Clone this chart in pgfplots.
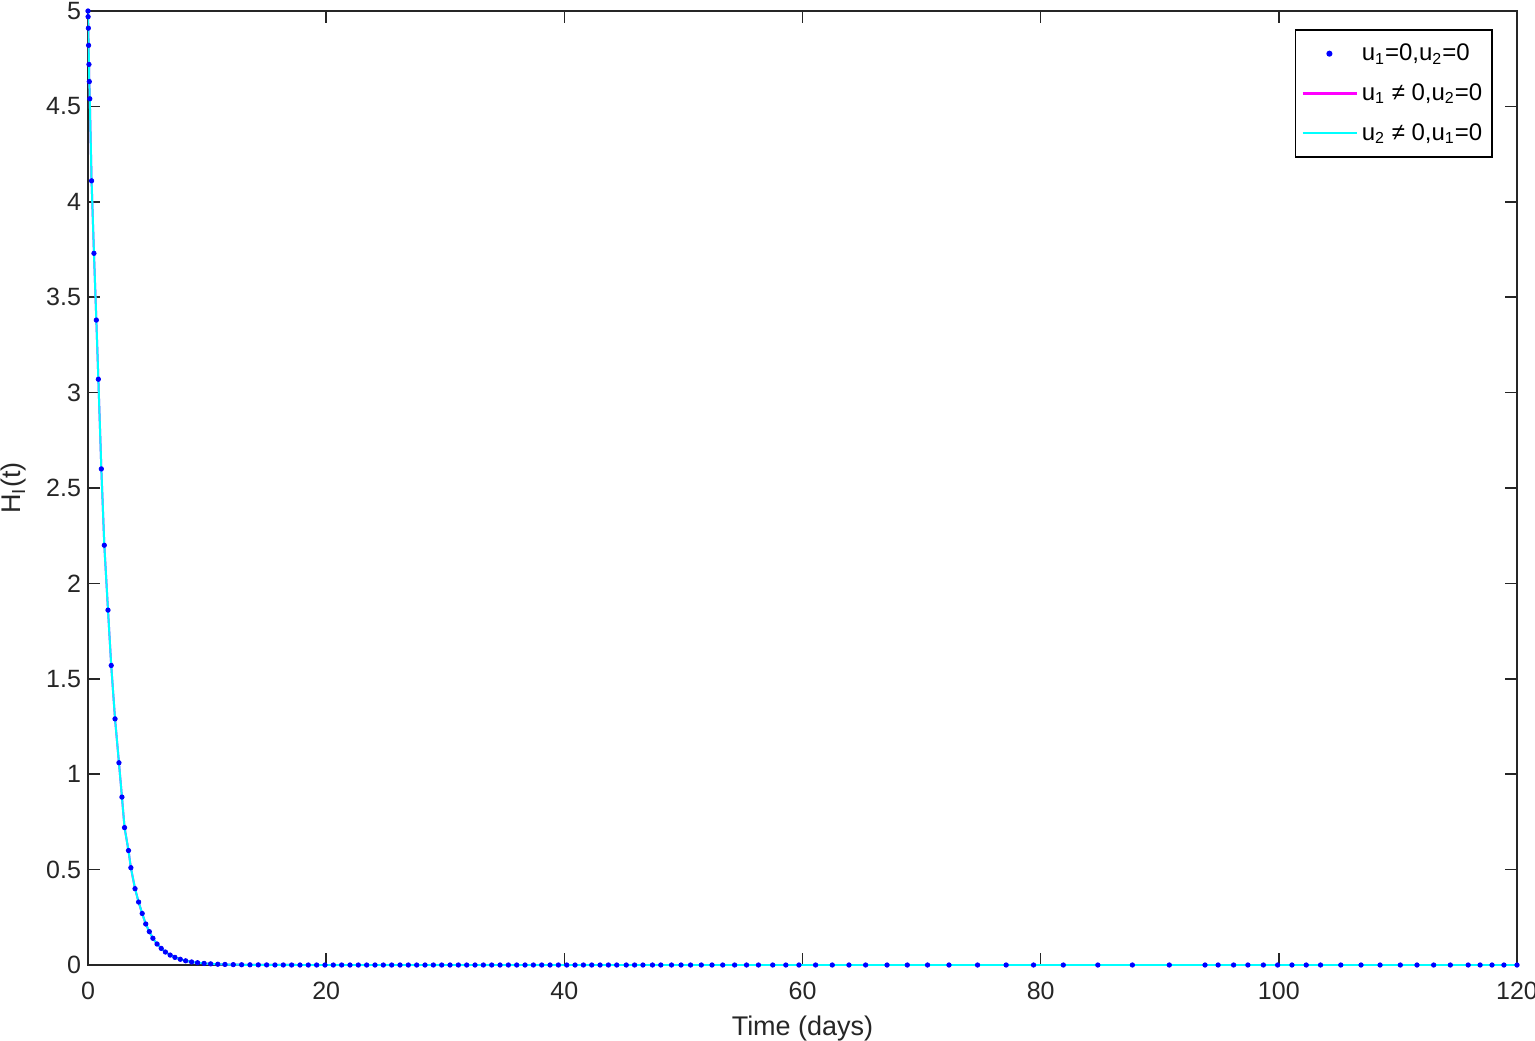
\documentclass[border=0pt]{standalone}
\usepackage{fontspec}
\setmainfont{Liberation Sans}
\usepackage{pgfplots}
\usepackage{pgfplotstable}
\pgfplotsset{compat=1.18}
\definecolor{axgray}{RGB}{38,38,38}
\definecolor{mblue}{RGB}{0,0,255}
\definecolor{mmag}{RGB}{255,0,255}
\definecolor{mcyan}{RGB}{0,255,255}
\pgfplotstableread{
t y
0 5.00
0.01 4.97
0.03 4.91
0.05 4.82
0.08 4.72
0.11 4.63
0.15 4.54
0.3 4.11
0.5 3.73
0.7 3.38
0.87 3.07
1.12 2.60
1.37 2.20
1.68 1.86
1.95 1.57
2.27 1.29
2.6 1.06
2.85 0.88
3.07 0.72
3.4 0.60
3.6 0.51
3.95 0.40
4.25 0.33
4.55 0.27
4.85 0.215
5.15 0.175
5.45 0.14
5.8 0.11
6.15 0.087
6.5 0.068
6.9 0.052
7.3 0.040
7.75 0.030
8.2 0.022
8.7 0.016
9.2 0.012
9.75 0.0085
10.3 0.006
10.9 0.0042
11.5 0.003
12.2 0.002
12.9 0.0014
13.6 0.001
14.3 0.0007
15.0 0.0005
15.7 0.0003
16.4 0.0002
17.1 0.0001
17.8 0
18.5 0
19.2 0
19.9 0
20.6 0
21.3 0
22.0 0
22.7 0
23.4 0
24.1 0
24.8 0
25.5 0
26.2 0
26.9 0
27.6 0
28.3 0
29.0 0
29.7 0
30.4 0
31.1 0
31.8 0
32.5 0
33.2 0
33.9 0
34.6 0
35.3 0
36.0 0
36.7 0
37.4 0
38.1 0
38.8 0
39.5 0
40.2 0
40.9 0
41.6 0
42.3 0
43.0 0
43.7 0
44.4 0
45.2 0
45.9 0
46.6 0
47.4 0
48.1 0
49.0 0
49.8 0
50.6 0
51.5 0
52.4 0
53.3 0
54.3 0
55.3 0
56.3 0
57.5 0
58.6 0
59.7 0
61.1 0
62.5 0
63.9 0
65.3 0
67.1 0
68.8 0
70.5 0
72.3 0
74.7 0
77.1 0
79.4 0
81.9 0
84.8 0
87.7 0
90.8 0
93.8 0
94.9 0
96.2 0
97.4 0
98.7 0
99.9 0
101.1 0
102.3 0
103.5 0
105.2 0
106.9 0
108.5 0
110.2 0
111.6 0
113.0 0
114.4 0
115.9 0
116.9 0
117.9 0
118.9 0
120 0
}\datatab
\begin{document}
\begin{tikzpicture}
\useasboundingbox (-44pt,-37.5pt) rectangle (723.5pt,482.5pt);
\begin{axis}[
  scale only axis,
  width=714.5pt, height=477pt,
  xmin=0, xmax=120, ymin=0, ymax=5,
  xtick={0,20,40,60,80,100,120},
  ytick={0,0.5,1,1.5,2,2.5,3,3.5,4,4.5,5},
  yticklabels={0,0.5,1,1.5,2,2.5,3,3.5,4,4.5,5},
  xticklabels={0,20,40,60,80,100,120},
  tick align=inside,
  major tick length=6pt,
  tick style={axgray, line width=0.8pt},
  axis line style={axgray, line width=0.8pt},
  ticklabel style={font=\fontsize{12.5}{14}\selectfont, text=axgray},
  xticklabel style={yshift=-5pt},
  xlabel={Time (days)},
  ylabel={H\textsubscript{I}(t)},
  label style={font=\fontsize{13.5}{16}\selectfont, text=axgray},
  xlabel style={yshift=-1pt},
  ylabel style={yshift=3pt},
  legend style={at={(1,1)}, anchor=north east, xshift=-12pt, yshift=-9pt,
    draw=black, line width=0.8pt, font=\fontsize{12}{14}\selectfont,
    row sep=6pt, inner xsep=3pt, inner ysep=5pt, fill=white},
  legend cell align=left,
]
\addlegendimage{legend image code/.code={\fill[mblue] (0.47cm,0cm) circle (1.1pt);}}
\addlegendentry{u\textsubscript{1}=0,u\textsubscript{2}=0}
\addlegendimage{legend image code/.code={\draw[mmag, line width=1.1pt] (0cm,0cm) -- (0.95cm,0cm);}}
\addlegendentry{u\textsubscript{1} ≠ 0,u\textsubscript{2}=0}
\addlegendimage{legend image code/.code={\draw[mcyan, line width=1.1pt] (0cm,0cm) -- (0.95cm,0cm);}}
\addlegendentry{u\textsubscript{2} ≠ 0,u\textsubscript{1}=0}
\addplot[mmag, line width=1pt, forget plot] table[x=t, y=y] {\datatab};
\addplot[mcyan, line width=1pt, forget plot] table[x=t, y=y] {\datatab};
\addplot[mblue, only marks, mark=*, mark size=1.1pt, forget plot] table[x=t, y=y] {\datatab};
\end{axis}
\end{tikzpicture}
\end{document}
